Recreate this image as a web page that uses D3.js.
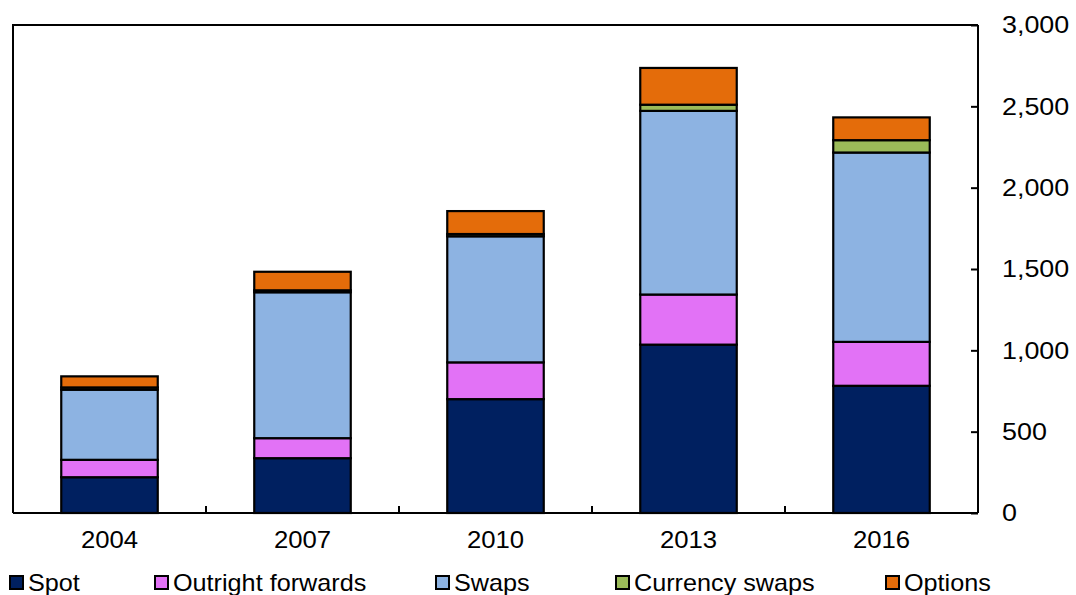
<!DOCTYPE html>
<html>
<head>
<meta charset="utf-8">
<script src="https://cdn.jsdelivr.net/npm/d3@7/dist/d3.min.js"></script>
<style>
  html, body { margin: 0; padding: 0; background: #fff; }
  svg { display: block; font-family: "Liberation Sans", Arial, sans-serif; }
</style>
</head>
<body>
<svg id="chart" width="1076" height="595"></svg>
<script>
// Turnover by instrument, survey years
const years = ["2004", "2007", "2010", "2013", "2016"];
const spot = [220, 337, 700, 1035, 782];
const outrightForwards = [107, 123, 226, 308, 270];
const swaps = [431, 897, 775, 1129, 1164];
const currencySwaps = [14, 12, 14, 38, 76];
const options = [68, 114, 141, 226, 140];

const seriesNames = ["Spot", "Outright forwards", "Swaps", "Currency swaps", "Options"];
const seriesKeys = ["spot", "outrightForwards", "swaps", "currencySwaps", "options"];
const seriesColors = ["#002060", "#E272F6", "#8DB3E2", "#9BBB59", "#E46C0A"];
const yTicks = [0, 500, 1000, 1500, 2000, 2500, 3000];

const rows = years.map((y, i) => ({
  year: y,
  spot: spot[i],
  outrightForwards: outrightForwards[i],
  swaps: swaps[i],
  currencySwaps: currencySwaps[i],
  options: options[i]
}));

const svg = d3.select("#chart");
const plot = { left: 13, right: 978, top: 25, bottom: 513 };
const fontSize = 24;

// Widen glyphs horizontally by a given factor
function widen(factor) {
  return sel => sel.each(function () {
    const len = this.getComputedTextLength();
    d3.select(this)
      .attr("textLength", len * factor)
      .attr("lengthAdjust", "spacingAndGlyphs");
  });
}

const x = d3.scaleBand()
  .domain(years)
  .range([plot.left, plot.right])
  .paddingInner(0.5)
  .paddingOuter(0.25);

const y = d3.scaleLinear()
  .domain([0, 3000])
  .range([plot.bottom, plot.top]);

const color = d3.scaleOrdinal().domain(seriesKeys).range(seriesColors);

const stacked = d3.stack().keys(seriesKeys)(rows);

// Stacked bars
svg.append("g")
  .selectAll("g")
  .data(stacked)
  .join("g")
  .attr("fill", d => color(d.key))
  .selectAll("rect")
  .data(d => d)
  .join("rect")
  .attr("x", d => x(d.data.year))
  .attr("width", x.bandwidth())
  .attr("y", d => y(d[1]))
  .attr("height", d => y(d[0]) - y(d[1]))
  .attr("stroke", "#000")
  .attr("stroke-width", 2.2);

// Frame: left and top edges
svg.append("path")
  .attr("d", `M${plot.left},${plot.bottom}V${plot.top}H${plot.right}`)
  .attr("fill", "none")
  .attr("stroke", "#000")
  .attr("stroke-width", 2);

// Right value axis with inward ticks
const yAxis = svg.append("g")
  .attr("transform", `translate(${plot.right},0)`)
  .call(d3.axisRight(y)
    .tickValues(yTicks)
    .tickSize(-7)
    .tickPadding(24)
    .tickFormat(d3.format(",")));
yAxis.select(".domain")
  .attr("d", `M0,${plot.top}V${plot.bottom}`)
  .attr("stroke", "#000").attr("stroke-width", 2);
yAxis.selectAll(".tick line").attr("stroke", "#000").attr("stroke-width", 2);
yAxis.selectAll(".tick text")
  .attr("font-size", fontSize)
  .attr("font-family", "Liberation Sans, Arial, sans-serif")
  .attr("fill", "#000")
  .call(widen(1.12));

// Category axis: labels centred under bars, ticks between categories
const xAxis = svg.append("g")
  .attr("transform", `translate(0,${plot.bottom})`)
  .call(d3.axisBottom(x).tickSize(0).tickPadding(18));
xAxis.select(".domain")
  .attr("d", `M${plot.left},0H${plot.right}`)
  .attr("stroke", "#000").attr("stroke-width", 2);
xAxis.selectAll(".tick text")
  .attr("font-size", fontSize)
  .attr("font-family", "Liberation Sans, Arial, sans-serif")
  .attr("fill", "#000")
  .call(widen(1.07));

svg.append("g")
  .selectAll("line")
  .data(years.slice(1))
  .join("line")
  .attr("x1", d => x(d) - x.step() * x.paddingInner() / 2)
  .attr("x2", d => x(d) - x.step() * x.paddingInner() / 2)
  .attr("y1", plot.bottom)
  .attr("y2", plot.bottom - 7)
  .attr("stroke", "#000")
  .attr("stroke-width", 2);

// Legend along the bottom
const legendX = [10, 155, 436, 616, 886];
const legend = svg.append("g")
  .selectAll("g")
  .data(seriesKeys)
  .join("g")
  .attr("transform", (d, i) => `translate(${legendX[i]},576)`);
legend.append("rect")
  .attr("width", 13).attr("height", 13)
  .attr("fill", d => color(d))
  .attr("stroke", "#000").attr("stroke-width", 2);
legend.append("text")
  .attr("x", 18)
  .attr("y", 15)
  .attr("font-size", fontSize)
  .attr("fill", "#000")
  .text((d, i) => seriesNames[i])
  .call(widen(1.05));
</script>
</body>
</html>
